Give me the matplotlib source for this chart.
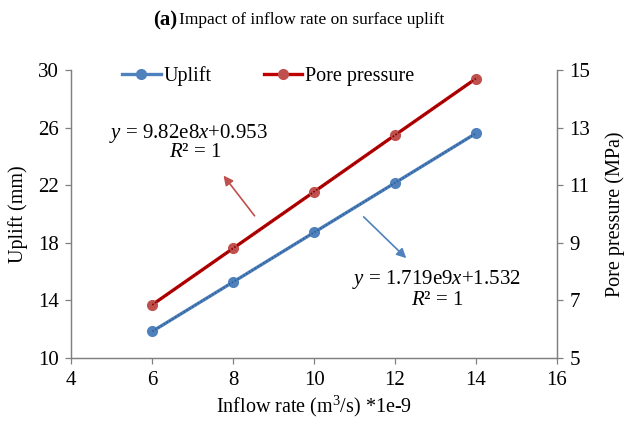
"""Surface uplift and pore pressure versus inflow rate."""
import numpy as np
import matplotlib
matplotlib.use("Agg")
import matplotlib.pyplot as plt

plt.rcParams["font.family"] = ["Liberation Serif", "DejaVu Serif"]
plt.rcParams["mathtext.fontset"] = "custom"
plt.rcParams["mathtext.rm"] = "Liberation Serif"
plt.rcParams["mathtext.it"] = "Liberation Serif:italic"

inflow = [6, 8, 10, 12, 14]                      # m3/s * 1e-9
uplift = [11.85, 15.28, 18.72, 22.16, 25.60]     # mm
pore = [6.85, 8.81, 10.77, 12.74, 14.70]         # MPa

# linear trend coefficients (x in m3/s)
uplift_fit = (1.719e9, 1.532)
pore_fit = (9.82e8, 0.953)

BLUE = "#4F81BD"
RED_LINE = "#C00000"
RED_MARK = "#C0504D"
AXIS = "#808080"

fig = plt.figure(figsize=(6.25, 4.21), dpi=100)
ax = fig.add_axes([0.1142, 0.1496, 0.7766, 0.6841])
ax2 = ax.twinx()

l1, = ax.plot(inflow, uplift, color=BLUE, lw=2.4, marker="o", ms=7,
              mfc=BLUE, mec=BLUE, label="Uplift", zorder=3)
l2, = ax2.plot(inflow, pore, color=RED_LINE, lw=2.4, marker="o", ms=7,
               mfc=RED_MARK, mec=RED_MARK, label="Pore pressure", zorder=3)

# trendlines drawn from the fitted equations
xt = np.array([inflow[0], inflow[-1]], dtype=float)
ax.plot(xt, uplift_fit[0] * xt * 1e-9 + uplift_fit[1], color="#2F5F98",
        lw=1.2, ls=(0, (1, 1)), zorder=4)
ax2.plot(xt, pore_fit[0] * xt * 1e-9 + pore_fit[1], color="#7F0000",
         lw=1.2, ls=(0, (1, 1)), zorder=4)

ax.set_xlim(4, 16)
ax.set_ylim(10, 30)
ax2.set_ylim(5, 15)
ax.set_xticks(range(4, 17, 2))
ax.set_yticks(range(10, 31, 4))
ax2.set_yticks(range(5, 16, 2))

for a in (ax, ax2):
    a.spines["top"].set_visible(False)
    for s in ("left", "right", "bottom"):
        a.spines[s].set_color(AXIS)
        a.spines[s].set_linewidth(0.9)
    a.tick_params(labelcolor="black", color=AXIS, labelsize=15,
                  length=4, width=0.9)
ax.tick_params(axis="y", pad=5)
ax2.tick_params(axis="y", pad=5)
ax.tick_params(axis="x", pad=5)

ax.set_xlabel("Inflow rate (m$^3$/s) *1e-9", fontsize=14.5, labelpad=3)
ax.set_ylabel("Uplift (mm)", fontsize=14.5, labelpad=7)
ax2.set_ylabel("Pore pressure (MPa)", fontsize=14.5, labelpad=11)

ax.legend(handles=[l1, l2], loc="center left", bbox_to_anchor=(0.105, 0.979),
          ncol=2, frameon=False, fontsize=14.5, handlelength=1.9,
          handletextpad=0.15, columnspacing=2.6, borderpad=0,
          borderaxespad=0)

fig.text(0.284, 0.952, "(a)", fontsize=15, fontweight="bold",
         ha="right", va="center")
fig.text(0.286, 0.952, "Impact of inflow rate on surface uplift",
         fontsize=12.5, ha="left", va="center")

# equation labels with arrows
ax.text(0.241, 0.781, "$y$ = 9.82e8$x$+0.953", transform=ax.transAxes,
        fontsize=15, ha="center", va="center")
ax.text(0.255, 0.712, "$R$² = 1", transform=ax.transAxes,
        fontsize=15, ha="center", va="center")
ax.text(0.752, 0.271, "$y$ = 1.719e9$x$+1.532", transform=ax.transAxes,
        fontsize=15, ha="center", va="center")
ax.text(0.753, 0.201, "$R$² = 1", transform=ax.transAxes,
        fontsize=15, ha="center", va="center")

ax.annotate("", xy=(0.310, 0.641), xytext=(0.381, 0.486),
            xycoords="axes fraction",
            arrowprops=dict(arrowstyle="-|>", color=RED_MARK, lw=1.2,
                            mutation_scale=14))
ax.annotate("", xy=(0.694, 0.340), xytext=(0.598, 0.497),
            xycoords="axes fraction",
            arrowprops=dict(arrowstyle="-|>", color=BLUE, lw=1.2,
                            mutation_scale=14))

fig.savefig("out.png", dpi=100)
